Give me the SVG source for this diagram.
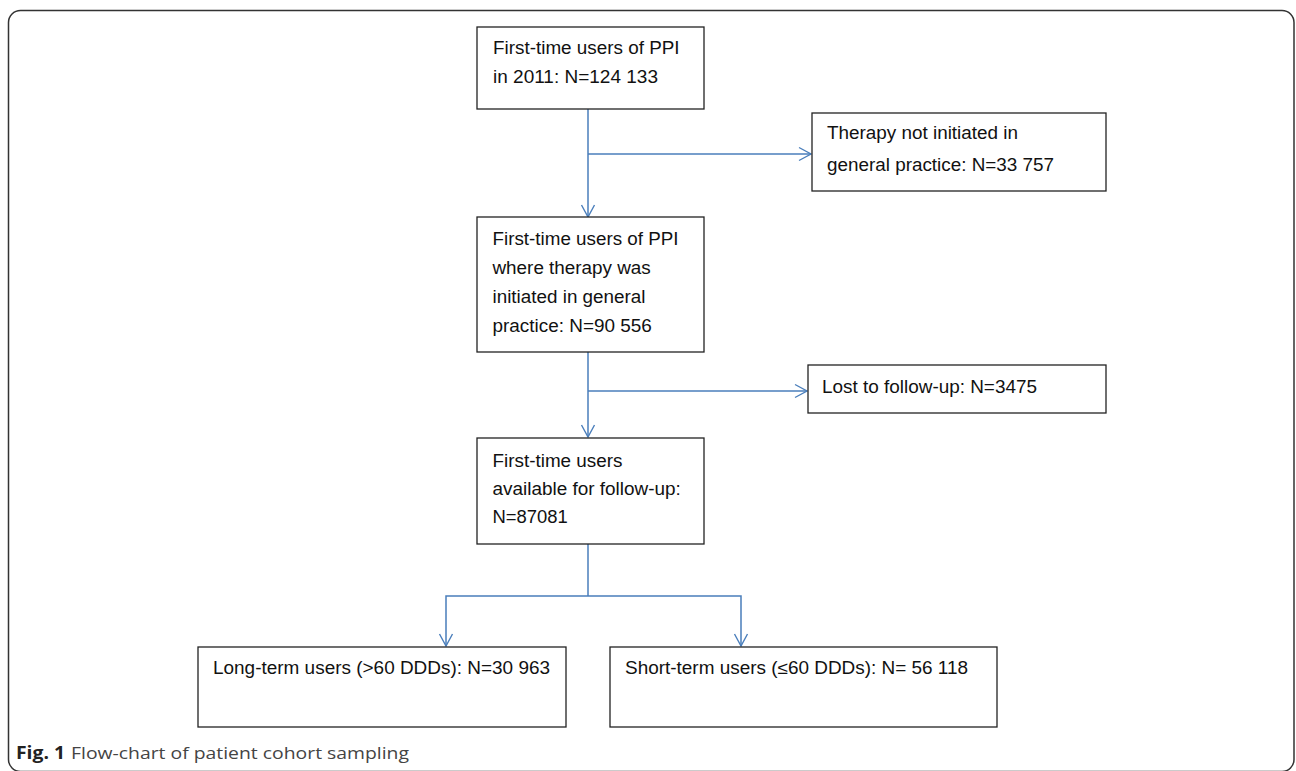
<svg xmlns="http://www.w3.org/2000/svg" width="1296" height="771" viewBox="0 0 1296 771">
<defs>
<style>
.frame{fill:none;stroke:#333;stroke-width:1.5}
.box{fill:#fff;stroke:#222;stroke-width:1.3}
.t{font-family:"Liberation Sans",Arial,Helvetica,sans-serif;font-size:17.5px;fill:#111}
.conn{fill:none;stroke:#4a7ebb;stroke-width:1.5}
.cap{font-family:"Open Sans","Noto Sans",sans-serif;font-size:17px;fill:#444}
.capb{font-family:"Open Sans","Noto Sans",sans-serif;font-size:17px;font-weight:bold;fill:#222}
</style>
<marker id="arr" viewBox="0 0 14 16" refX="13" refY="8" markerWidth="14" markerHeight="16" markerUnits="userSpaceOnUse" orient="auto">
<path d="M1,1.5 L13,8 L1,14.5" fill="none" stroke="#4a7ebb" stroke-width="1.4"/>
</marker>
</defs>
<rect class="frame" x="8.5" y="10.5" width="1285.5" height="761" rx="12"/>
<g id="connectors">
<line class="conn" x1="588" y1="109" x2="588" y2="217" marker-end="url(#arr)"/>
<line class="conn" x1="588" y1="154" x2="811" y2="154" marker-end="url(#arr)"/>
<line class="conn" x1="588" y1="352" x2="588" y2="437" marker-end="url(#arr)"/>
<line class="conn" x1="588" y1="391" x2="807" y2="391" marker-end="url(#arr)"/>
<line class="conn" x1="588" y1="544" x2="588" y2="596"/>
<polyline class="conn" points="588,596 446,596 446,646" marker-end="url(#arr)"/>
<polyline class="conn" points="588,596 741,596 741,646" marker-end="url(#arr)"/>
</g>
<g id="n1">
<rect class="box" x="477" y="27" width="227" height="82"/>
<text class="t" x="493" y="54" textLength="186.6" lengthAdjust="spacingAndGlyphs">First-time users of PPI</text>
<text class="t" x="493" y="83" textLength="165" lengthAdjust="spacingAndGlyphs">in 2011: N=124 133</text>
</g>
<g id="n2">
<rect class="box" x="812" y="113" width="294" height="78"/>
<text class="t" x="827" y="139" textLength="191" lengthAdjust="spacingAndGlyphs">Therapy not initiated in</text>
<text class="t" x="827" y="171" textLength="227" lengthAdjust="spacingAndGlyphs">general practice: N=33 757</text>
</g>
<g id="n3">
<rect class="box" x="477" y="217" width="227" height="135"/>
<text class="t" x="492.5" y="245" textLength="186" lengthAdjust="spacingAndGlyphs">First-time users of PPI</text>
<text class="t" x="492.5" y="274" textLength="158.3" lengthAdjust="spacingAndGlyphs">where therapy was</text>
<text class="t" x="492.5" y="303" textLength="153" lengthAdjust="spacingAndGlyphs">initiated in general</text>
<text class="t" x="492.5" y="332" textLength="159.3" lengthAdjust="spacingAndGlyphs">practice: N=90 556</text>
</g>
<g id="n4">
<rect class="box" x="808" y="365" width="298" height="48"/>
<text class="t" x="822" y="393" textLength="215" lengthAdjust="spacingAndGlyphs">Lost to follow-up: N=3475</text>
</g>
<g id="n5">
<rect class="box" x="477" y="438" width="227" height="106"/>
<text class="t" x="492.5" y="466.5" textLength="130" lengthAdjust="spacingAndGlyphs">First-time users</text>
<text class="t" x="492.5" y="495" textLength="188.3" lengthAdjust="spacingAndGlyphs">available for follow-up:</text>
<text class="t" x="492.5" y="523" textLength="75.3" lengthAdjust="spacingAndGlyphs">N=87081</text>
</g>
<g id="n6">
<rect class="box" x="198" y="647" width="368" height="80"/>
<text class="t" x="213" y="674" textLength="337" lengthAdjust="spacingAndGlyphs">Long-term users (&gt;60 DDDs): N=30 963</text>
</g>
<g id="n7">
<rect class="box" x="610" y="647" width="387" height="80"/>
<text class="t" x="625" y="674" textLength="343" lengthAdjust="spacingAndGlyphs">Short-term users (≤60 DDDs): N= 56 118</text>
</g>
<g id="caption">
<text class="capb" x="16" y="759" textLength="49" lengthAdjust="spacingAndGlyphs">Fig. 1</text>
<text class="cap" x="71" y="759" textLength="338" lengthAdjust="spacingAndGlyphs">Flow-chart of patient cohort sampling</text>
</g>
</svg>
